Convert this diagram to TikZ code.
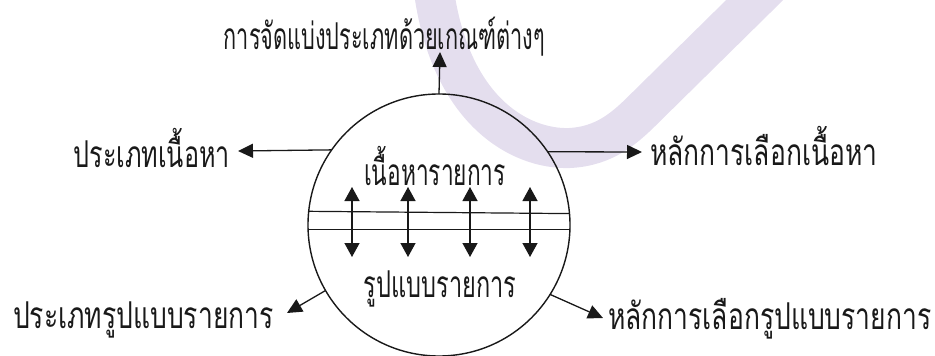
\documentclass[tikz,border=0pt]{standalone}
\usepackage{fontspec}
\usepackage{graphicx}
\newfontfamily\thaifont[Script=Thai,FakeStretch=0.715]{Loma}
\usetikzlibrary{arrows.meta}
\definecolor{wm}{RGB}{228,222,238}
\definecolor{ink}{RGB}{25,25,25}
\newcommand{\hsq}[2]{\scalebox{#1}[1]{#2}}
\tikzset{
  lbl/.style={font=\thaifont\fontsize{37pt}{40pt}\selectfont, text=ink, inner sep=0pt},
  outarr/.style={draw=ink, line width=1.3pt, -{Triangle[width=14pt,length=15pt]}},
  dblarr/.style={draw=ink, line width=1.3pt, {Triangle[width=15pt,length=14pt]}-{Triangle[width=15pt,length=14pt]}},
  chord/.style={draw=ink, line width=1.2pt},
}
\begin{document}
\begin{tikzpicture}[x=1pt,y=-1pt]
\useasboundingbox (0,0) rectangle (935,356);
% watermark swoosh
\draw[wm, line width=40pt, line cap=butt] (432,-25) .. controls (445,110) and (520,150) .. (570,148) .. controls (605,146) and (625,128) .. (645,108) -- (775,-20);
% circle
\node[circle, draw=ink, line width=1.4pt, minimum size=262pt, inner sep=0pt, outer sep=0pt] (c) at (439,225) {};
% chords
\draw[chord] (c.174.74) -- (c.5.26);
\draw[chord] (c.182.62) -- (c.-2.62);
% inner labels
\node[lbl] (content) at (435,166) {\hsq{0.86}{เนื้อหารายการ}};
\node[lbl] (format) at (440,289) {\hsq{0.89}{รูปแบบรายการ}};
% double arrows
\foreach \i/\x in {1/352,2/408,3/470,4/530}{
  \coordinate (up\i) at (\x,187);
  \coordinate (dn\i) at (\x,257);
  \draw[dblarr] (up\i) -- (dn\i);
}
% tips
\coordinate (ttop) at (440,52);
\coordinate (tleft) at (238,151);
\coordinate (tright) at (642,152);
\coordinate (tbl) at (287,313);
\coordinate (tbr) at (603,318);
\draw[outarr] (c.north) -- (ttop);
\draw[outarr] (c.145.6) -- (tleft);
\draw[outarr] (c.34) -- (tright);
\draw[outarr] (c.210.4) -- (tbl);
\draw[outarr] (c.-32.5) -- (tbr);
% outer labels
\node[lbl] (top) at (384.5,37) {\hsq{0.82}{การจัดแบ่งประเภทด้วยเกณฑ์ต่างๆ}};
\node[lbl, anchor=east] (left) at (230,148) {\hsq{0.95}{ประเภทเนื้อหา}};
\node[lbl, anchor=west] (right) at (650,146) {หลักการเลือกเนื้อหา};
\node[lbl, anchor=west] (bl) at (13,320) {ประเภทรูปแบบรายการ};
\node[lbl, anchor=west] (br) at (608,319) {หลักการเลือกรูปแบบรายการ};
\end{tikzpicture}
\end{document}
